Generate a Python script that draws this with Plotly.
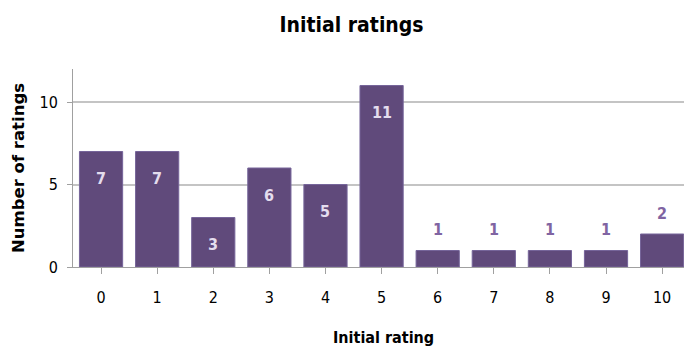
import plotly.graph_objects as go

ratings = ["0", "1", "2", "3", "4", "5", "6", "7", "8", "9", "10"]
counts = [7, 7, 3, 6, 5, 11, 1, 1, 1, 1, 2]
label_inside = [True, True, True, True, True, True, False, False, False, False, False]

NARROW = "DejaVu Sans Condensed, Lato, sans-serif"

fig = go.Figure()
fig.add_trace(go.Bar(
    x=list(range(len(ratings))),
    y=counts,
    marker=dict(color="#604A7B", line=dict(color="#76659a", width=1)),
    width=0.77,
    hoverinfo="skip",
))

for i, (c, ins) in enumerate(zip(counts, label_inside)):
    fig.add_annotation(
        x=i, y=c, text=f"<b>{c}</b>", showarrow=False,
        yanchor="middle", yshift=-27 if ins else 21,
        font=dict(family=NARROW, size=16, color="#E4DDEE" if ins else "#8064A2"),
    )

# x-axis title placed as an annotation for precise placement
fig.add_annotation(
    text="<b>Initial rating</b>", xref="paper", yref="paper",
    x=(383 - 73) / 611, y=-(337 - 267) / 198, xanchor="center", yanchor="middle",
    showarrow=False, font=dict(family=NARROW, size=16, color="black"),
)

fig.update_layout(
    width=684, height=349,
    margin=dict(l=73, r=0, t=69, b=82),
    paper_bgcolor="white", plot_bgcolor="white",
    showlegend=False,
    title=dict(text="<b>Initial ratings</b>", x=0.514, xanchor="center",
               y=1 - 25 / 349, yanchor="middle",
               font=dict(family=NARROW, size=21, color="black")),
    xaxis=dict(
        range=[-0.5, 10.39],
        tickmode="array", tickvals=list(range(len(ratings))), ticktext=ratings,
        ticks="outside", ticklen=6, tickcolor="#a0a0a0", tickwidth=1,
        tickson="boundaries", ticklabelstandoff=10,
        showline=True, linecolor="#a0a0a0", linewidth=1,
        showgrid=False, zeroline=False,
        tickfont=dict(family=NARROW, size=16, color="black"),
    ),
    yaxis=dict(
        range=[0, 12],
        tickmode="array", tickvals=[0, 5, 10],
        ticks="outside", ticklen=5, tickcolor="#a0a0a0",
        ticklabelstandoff=6,
        showline=True, linecolor="#a0a0a0", linewidth=1,
        showgrid=True, gridcolor="#c4c4c4", gridwidth=1.5,
        zeroline=False,
        tickfont=dict(family=NARROW, size=16, color="black"),
        title=dict(text="<b>Number of ratings</b>", standoff=10,
                   font=dict(family="DejaVu Sans", size=16.5, color="black")),
    ),
)

fig.write_html("out.html")
